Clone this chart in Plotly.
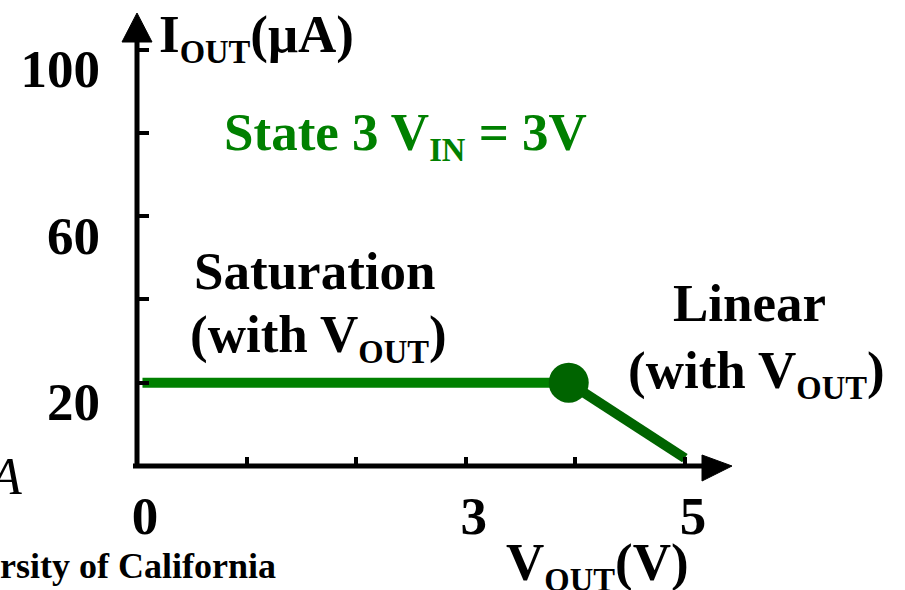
import plotly.graph_objects as go

# ---- data ----
v_out_sat = [0.05, 3.94]
i_out_sat = [20, 20]
v_out_lin = [3.94, 5.0]
i_out_lin = [20, 1.9]
knee_v = [3.94]
knee_i = [20]

x_tickvals = [0, 3, 5]
x_ticktext = ["0", "3", "5"]
x_minor_step = 1
y_tickvals = [20, 60, 100]
y_ticktext = ["20", "60", "100"]
y_minor_step = 20

# ---- layout geometry (pixels) ----
W, H = 905, 590
L, R, T, B = 137, 732, 13, 466


def px(x):
    return (x - L) / (R - L)


def py(y):
    return (B - y) / (B - T)


FONT = "Liberation Serif, Times New Roman, serif"
GREEN = "#008000"
DGREEN = "#006400"
FS = 53


def sub(s):
    return f'<sub><span style="font-size:88%">{s}</span></sub>'


fig = go.Figure()
fig.add_trace(go.Scatter(x=v_out_sat, y=i_out_sat, mode="lines",
                         line=dict(color=GREEN, width=10), hoverinfo="skip"))
fig.add_trace(go.Scatter(x=v_out_lin, y=i_out_lin, mode="lines",
                         line=dict(color=DGREEN, width=10), hoverinfo="skip"))
fig.add_trace(go.Scatter(x=knee_v, y=knee_i, mode="markers",
                         marker=dict(color=DGREEN, size=40), hoverinfo="skip"))

tickfont = dict(family=FONT, size=FS, color="black", weight="bold")

fig.update_xaxes(range=[0, 5.43], showgrid=False, zeroline=False, showline=False,
                 automargin=False,
                 ticks="inside", ticklen=9, tickwidth=4, tickcolor="black",
                 tickvals=x_tickvals, ticktext=x_ticktext, tickfont=tickfont,
                 ticklabelstandoff=14, ticklabelshift=8,
                 minor=dict(tickmode="linear", tick0=0, dtick=x_minor_step, ticks="inside",
                            ticklen=9, tickwidth=4, tickcolor="black", showgrid=False))
fig.update_yaxes(range=[0, 108.8], showgrid=False, zeroline=False, showline=False,
                 automargin=False,
                 ticks="inside", ticklen=12, tickwidth=4, tickcolor="black",
                 tickvals=y_tickvals, ticktext=y_ticktext, tickfont=tickfont,
                 ticklabelstandoff=36, ticklabelshift=19,
                 minor=dict(tickmode="linear", tick0=0, dtick=y_minor_step, ticks="inside",
                            ticklen=12, tickwidth=4, tickcolor="black", showgrid=False))

shapes = [
    # axis lines
    dict(type="line", xref="paper", yref="paper", x0=px(133), x1=px(710), y0=0, y1=0,
         line=dict(color="black", width=5)),
    dict(type="line", xref="paper", yref="paper", x0=0, x1=0, y0=-0.004, y1=py(35),
         line=dict(color="black", width=5)),
    # arrow heads
    dict(type="path", xref="paper", yref="paper",
         path=f"M {px(702)} {py(455)} L 1 0 L {px(702)} {py(481)} Z",
         fillcolor="black", line=dict(color="black", width=1)),
    dict(type="path", xref="paper", yref="paper",
         path=f"M {px(122)} {py(42)} L 0 1 L {px(152)} {py(42)} Z",
         fillcolor="black", line=dict(color="black", width=1)),
]


def ann(text, x, y, size=FS, color="black", xanchor="center", weight="bold", style="normal"):
    return dict(text=text, x=px(x), y=py(y), xref="paper", yref="paper",
                showarrow=False, xanchor=xanchor, yanchor="middle",
                font=dict(family=FONT, size=size, color=color, weight=weight, style=style))


annotations = [
    ann(f"I{sub('OUT')}(μA)", 157, 38, xanchor="left"),
    ann(f"State 3 V{sub('IN')} = 3V", 405, 135, color=GREEN),
    ann("Saturation", 314, 271),
    ann(f"(with V{sub('OUT')})", 318, 337),
    ann("Linear", 750, 303),
    ann(f"(with V{sub('OUT')})", 756, 373),
    ann(f"V{sub('OUT')}(V)", 597, 565),
    ann("A", 24, 477, size=52, xanchor="right", weight="normal", style="italic"),
    ann("rsity of California", -2, 566, size=36, xanchor="left"),
]

fig.update_layout(width=W, height=H, margin=dict(l=L, r=W - R, t=T, b=H - B),
                  plot_bgcolor="white", paper_bgcolor="white", showlegend=False,
                  shapes=shapes, annotations=annotations)

fig.write_html("out.html", config={"displayModeBar": False},
               post_script="document.body.style.margin='0';document.body.style.overflow='hidden';")
